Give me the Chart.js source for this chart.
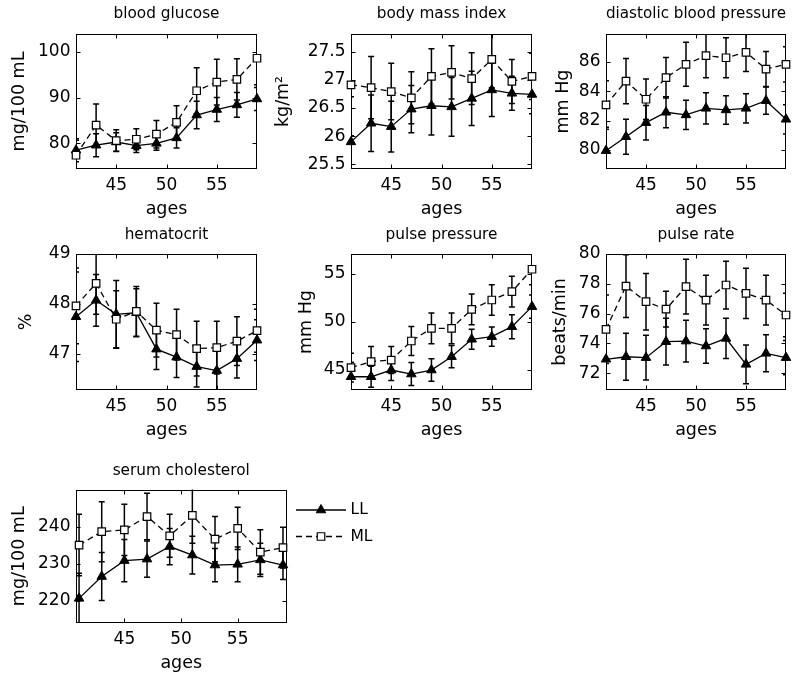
<!DOCTYPE html>
<html><head><meta charset="utf-8">
<script src="https://cdn.jsdelivr.net/npm/chart.js@4.4.1/dist/chart.umd.min.js"></script>
<style>
html,body{margin:0;padding:0;background:#fff;}
body{width:800px;height:676px;position:relative;overflow:hidden;}
canvas{position:absolute;}
</style></head><body>
<script>
// ---------- data ----------
const ages = [41, 43, 45, 47, 49, 51, 53, 55, 57, 59];
const xTicks = [45, 50, 55];
const xTitle = 'ages';
const seriesLabels = ['LL', 'ML'];

// blood glucose
const glucoseLL    = [78.5, 79.6, 80.3, 79.5, 80.0, 81.2, 86.2, 87.4, 88.4, 89.7];
const glucoseLLErr = [2.5, 2.5, 2.0, 1.5, 1.5, 2.2, 3.0, 2.6, 2.7, 2.5];
const glucoseML    = [77.4, 84.0, 80.6, 80.9, 82.0, 84.6, 91.5, 93.4, 94.0, 98.6];
const glucoseMLErr = [3.3, 4.6, 2.4, 2.3, 3.0, 3.6, 5.0, 5.0, 4.5, 5.8];
const glucoseTicks = [80, 90, 100];
const glucoseTickLabels = ['80', '90', '100'];

// body mass index
const bmiLL    = [25.90, 26.23, 26.17, 26.48, 26.54, 26.52, 26.67, 26.82, 26.76, 26.74];
const bmiLLErr = [0.8, 0.5, 0.45, 0.42, 0.52, 0.52, 0.48, 0.47, 0.30, 0.34];
const bmiML    = [26.91, 26.86, 26.79, 26.68, 27.06, 27.13, 27.02, 27.36, 26.97, 27.06];
const bmiMLErr = [0.9, 0.55, 0.5, 0.46, 0.49, 0.47, 0.46, 0.5, 0.39, 0.41];
const bmiTicks = [25.5, 26, 26.5, 27, 27.5];
const bmiTickLabels = ['25.5', '26', '26.5', '27', '27.5'];

// diastolic blood pressure
const dbpLL    = [79.95, 80.9, 81.86, 82.57, 82.39, 82.84, 82.73, 82.84, 83.36, 82.09];
const dbpLLErr = [1.6, 1.2, 1.18, 1.06, 1.0, 1.07, 0.97, 1.0, 0.93, 1.0];
const dbpML    = [83.07, 84.7, 83.46, 84.93, 85.84, 86.43, 86.29, 86.66, 85.52, 85.84];
const dbpMLErr = [1.65, 1.54, 1.38, 1.38, 1.5, 1.5, 1.36, 1.3, 1.2, 1.2];
const dbpTicks = [80, 82, 84, 86];
const dbpTickLabels = ['80', '82', '84', '86'];

// hematocrit
const hctLL    = [47.74, 48.07, 47.79, 47.82, 47.09, 46.93, 46.74, 46.66, 46.90, 47.27];
const hctLLErr = [0.9, 0.52, 0.68, 0.48, 0.41, 0.41, 0.41, 0.40, 0.39, 0.41];
const hctML    = [47.96, 48.41, 47.69, 47.85, 47.47, 47.38, 47.10, 47.12, 47.25, 47.46];
const hctMLErr = [0.76, 0.62, 0.57, 0.5, 0.54, 0.51, 0.55, 0.53, 0.49, 0.43];
const hctTicks = [47, 48, 49];
const hctTickLabels = ['47', '48', '49'];

// pulse pressure
const ppLL    = [44.3, 44.3, 45.0, 44.58, 45.0, 46.39, 48.2, 48.47, 49.51, 51.6];
const ppLLErr = [1.5, 1.1, 1.1, 1.2, 1.17, 1.16, 1.05, 1.0, 1.25, 1.2];
const ppML    = [45.24, 45.87, 46.04, 48.02, 49.34, 49.34, 51.32, 52.29, 53.16, 55.49];
const ppMLErr = [1.5, 1.57, 1.4, 1.5, 1.6, 1.6, 1.6, 1.6, 1.6, 1.6];
const ppTicks = [45, 50, 55];
const ppTickLabels = ['45', '50', '55'];

// pulse rate
const prLL    = [72.94, 73.11, 73.05, 74.12, 74.16, 73.83, 74.34, 72.6, 73.34, 73.05];
const prLLErr = [2.1, 1.57, 1.5, 1.57, 1.4, 1.16, 1.35, 1.3, 1.24, 1.15];
const prML    = [74.95, 77.85, 76.8, 76.3, 77.81, 76.91, 77.92, 77.36, 76.91, 75.91];
const prMLErr = [2.3, 2.1, 1.9, 1.2, 1.83, 1.67, 1.6, 1.68, 1.67, 1.46];
const prTicks = [72, 74, 76, 78, 80];
const prTickLabels = ['72', '74', '76', '78', '80'];

// serum cholesterol
const cholLL    = [220.7, 226.6, 230.9, 231.3, 234.7, 232.4, 229.7, 229.9, 231.1, 229.7];
const cholLLErr = [6.8, 6.5, 5.7, 4.9, 4.9, 5.1, 4.5, 4.7, 4.5, 3.9];
const cholML    = [235.1, 238.7, 239.2, 242.8, 237.6, 243.1, 236.7, 239.6, 233.2, 234.4];
const cholMLErr = [8.3, 8.1, 6.9, 6.3, 5.8, 7.5, 6.1, 5.7, 6.0, 5.5];
const cholTicks = [220, 230, 240];
const cholTickLabels = ['220', '230', '240'];

// ---------- layout / styles ----------
const FONT = "'DejaVu Sans', sans-serif";
const panels = [
  {title:'blood glucose', yTitle:'mg/100 mL', ll:glucoseLL, llErr:glucoseLLErr, ml:glucoseML, mlErr:glucoseMLErr,
   yTicks:glucoseTicks, yLabels:glucoseTickLabels, yMin:74.4, yMax:103.9, xMin:41, xMax:59,
   box:[76,34,257,169], yTitleX:19, titleGap:19.5},
  {title:'body mass index', yTitle:'kg/m\u00B2', ll:bmiLL, llErr:bmiLLErr, ml:bmiML, mlErr:bmiMLErr,
   yTicks:bmiTicks, yLabels:bmiTickLabels, yMin:25.42, yMax:27.81, xMin:41, xMax:59,
   box:[351,34,532,169], yTitleX:283, titleGap:19.5},
  {title:'diastolic blood pressure', yTitle:'mm Hg', ll:dbpLL, llErr:dbpLLErr, ml:dbpML, mlErr:dbpMLErr,
   yTicks:dbpTicks, yLabels:dbpTickLabels, yMin:78.7, yMax:87.91, xMin:41, xMax:59,
   box:[606,34,786,169], yTitleX:563, titleGap:19.5},
  {title:'hematocrit', yTitle:'%', ll:hctLL, llErr:hctLLErr, ml:hctML, mlErr:hctMLErr,
   yTicks:hctTicks, yLabels:hctTickLabels, yMin:46.27, yMax:49, xMin:41, xMax:59,
   box:[76,254,257,390], yTitleX:26, titleGap:18.7},
  {title:'pulse pressure', yTitle:'mm Hg', ll:ppLL, llErr:ppLLErr, ml:ppML, mlErr:ppMLErr,
   yTicks:ppTicks, yLabels:ppTickLabels, yMin:42.92, yMax:57.08, xMin:41, xMax:59,
   box:[351,254,532,390], yTitleX:306.5, titleGap:18.7},
  {title:'pulse rate', yTitle:'beats/min', ll:prLL, llErr:prLLErr, ml:prML, mlErr:prMLErr,
   yTicks:prTicks, yLabels:prTickLabels, yMin:70.88, yMax:80, xMin:41, xMax:59,
   box:[606,254,786,390], yTitleX:560, titleGap:18.7},
  {title:'serum cholesterol', yTitle:'mg/100 mL', ll:cholLL, llErr:cholLLErr, ml:cholML, mlErr:cholMLErr,
   yTicks:cholTicks, yLabels:cholTickLabels, yMin:214.05, yMax:250.1, xMin:40.73, xMax:59.31,
   box:[76,489.5,286.5,623], yTitleX:19, titleGap:18.5, legend:true}
];

// box with inward ticks on all four sides
const boxPlugin = {
  id:'matBox',
  beforeDatasetsDraw(chart){
    const {ctx, chartArea:a, scales:{x, y}} = chart;
    ctx.save();
    ctx.strokeStyle = '#000'; ctx.lineWidth = 1;
    const l = Math.round(a.left)+0.5, t = Math.round(a.top)+0.5, r = Math.round(a.right)-0.5, b = Math.round(a.bottom)-0.5;
    ctx.strokeRect(l, t, r-l, b-t);
    ctx.beginPath();
    y.ticks.forEach(tk => {
      const py = Math.round(y.getPixelForValue(tk.value))+0.5;
      ctx.moveTo(l, py); ctx.lineTo(l+4, py);
      ctx.moveTo(r, py); ctx.lineTo(r-4, py);
    });
    x.ticks.forEach(tk => {
      const px = Math.round(x.getPixelForValue(tk.value))+0.5;
      ctx.moveTo(px, b); ctx.lineTo(px, b-4);
      ctx.moveTo(px, t); ctx.lineTo(px, t+4);
    });
    ctx.stroke();
    ctx.restore();
  }
};

// vertical error bars with caps, clipped to the plot box
const errorBarPlugin = {
  id:'errBars',
  beforeDatasetsDraw(chart){
    const {ctx, chartArea:a, scales:{y}} = chart;
    ctx.save();
    ctx.beginPath(); ctx.rect(a.left, a.top, a.right-a.left, a.bottom-a.top); ctx.clip();
    ctx.strokeStyle = '#000'; ctx.lineWidth = 1.5;
    chart.data.datasets.forEach((ds, i) => {
      const meta = chart.getDatasetMeta(i);
      meta.data.forEach((pt, j) => {
        const v = ds.data[j].y, e = ds.errors[j];
        const y1 = y.getPixelForValue(v + e), y2 = y.getPixelForValue(v - e);
        ctx.beginPath();
        ctx.moveTo(pt.x, y1); ctx.lineTo(pt.x, y2);
        ctx.moveTo(pt.x-3, y1); ctx.lineTo(pt.x+3, y1);
        ctx.moveTo(pt.x-3, y2); ctx.lineTo(pt.x+3, y2);
        ctx.stroke();
      });
    });
    ctx.restore();
  }
};

function drawMarker(ctx, style, r, x, y){
  ctx.beginPath();
  if (style === 'triangle') {
    let rad = 0;
    ctx.moveTo(x + Math.sin(rad)*r, y - Math.cos(rad)*r);
    rad += 2*Math.PI/3; ctx.lineTo(x + Math.sin(rad)*r, y - Math.cos(rad)*r);
    rad += 2*Math.PI/3; ctx.lineTo(x + Math.sin(rad)*r, y - Math.cos(rad)*r);
    ctx.closePath();
  } else {
    const s = r*Math.SQRT1_2;
    ctx.rect(x-s, y-s, 2*s, 2*s);
  }
  ctx.fill(); ctx.stroke();
}

const sideLegendPlugin = {
  id:'sideLegend',
  afterDraw(chart){
    const {ctx, chartArea:a} = chart;
    chart.data.datasets.forEach((ds, i) => {
      const yy = a.top + 20.5 + i*26.5;
      const x0 = a.right + 9.5, x1 = a.right + 59.5, xm = (x0+x1)/2;
      ctx.save();
      ctx.strokeStyle = ds.borderColor; ctx.lineWidth = ds.borderWidth;
      ctx.setLineDash(ds.borderDash || []);
      ctx.beginPath(); ctx.moveTo(x0, yy); ctx.lineTo(x1, yy); ctx.stroke();
      ctx.setLineDash([]);
      ctx.fillStyle = ds.pointBackgroundColor; ctx.strokeStyle = ds.pointBorderColor; ctx.lineWidth = ds.pointBorderWidth;
      drawMarker(ctx, ds.pointStyle, ds.pointRadius, xm, yy);
      ctx.fillStyle = '#000'; ctx.font = "15.5px 'DejaVu Sans'"; ctx.textBaseline = 'middle'; ctx.textAlign = 'left';
      ctx.fillText(ds.label, a.right + 64, yy);
      ctx.restore();
    });
  }
};

function build(p){
  const [L, T, R, B] = p.box;
  const lhAxis = 17.5*1.2, lhTitle = 15.3*1.2;
  const cl = Math.floor(p.yTitleX - lhAxis/2 - 1);
  const ct = Math.floor(T - 34);
  const cr = Math.ceil(R + (p.legend ? 110 : 9));
  const xTitleMid = B + 40;
  const cb = Math.ceil(xTitleMid + lhAxis/2 + 1);
  const cw = cr - cl, ch = cb - ct;
  const canvas = document.createElement('canvas');
  canvas.width = cw; canvas.height = ch;
  canvas.style.left = cl + 'px'; canvas.style.top = ct + 'px';
  canvas.style.width = cw + 'px'; canvas.style.height = ch + 'px';
  document.body.appendChild(canvas);
  const tPadTop = (T - p.titleGap) - ct - lhTitle/2;
  const tPadBot = (T - ct) - lhTitle - tPadTop;

  const mk = arr => ages.map((a, i) => ({x:a, y:arr[i]}));
  new Chart(canvas, {
    type:'line',
    data:{datasets:[
      {label:seriesLabels[0], data:mk(p.ll), errors:p.llErr, borderColor:'#000', backgroundColor:'#000',
       borderWidth:1.3, pointStyle:'triangle', pointRadius:5.5, pointHoverRadius:5.5, pointBorderWidth:1,
       pointBackgroundColor:'#000', pointBorderColor:'#000', order:2, clip:false, tension:0},
      {label:seriesLabels[1], data:mk(p.ml), errors:p.mlErr, borderColor:'#000', backgroundColor:'#fff',
       borderWidth:1.3, borderDash:[6,4], pointStyle:'rect', pointRadius:5.3, pointHoverRadius:5.3, pointBorderWidth:1.2,
       pointBackgroundColor:'#fff', pointBorderColor:'#000', order:1, clip:false, tension:0}
    ]},
    options:{
      responsive:false, animation:false, devicePixelRatio:1, events:[],
      layout:{padding:{left:0, top:0, right:cr - R, bottom:0}},
      plugins:{
        legend:{display:false}, tooltip:{enabled:false},
        title:{display:true, text:p.title, fullSize:false, align:'center', color:'#000',
               font:{family:FONT, size:15.3, weight:'normal', lineHeight:1.2},
               padding:{top:tPadTop, bottom:tPadBot}}
      },
      scales:{
        x:{type:'linear', position:'bottom', min:p.xMin, max:p.xMax,
           grid:{display:false, drawTicks:false}, border:{display:false},
           afterBuildTicks:s => { s.ticks = xTicks.map(v => ({value:v})); },
           afterFit:s => { s.height = cb - B; },
           ticks:{autoSkip:false, maxRotation:0, padding:6.8, color:'#000',
                  font:{family:FONT, size:17, lineHeight:1.2}, callback:v => String(v)},
           title:{display:true, text:xTitle, color:'#000', font:{family:FONT, size:17.5, lineHeight:1.2},
                  padding:{top:0, bottom:cb - xTitleMid - lhAxis/2}}},
        y:{type:'linear', position:'left', min:p.yMin, max:p.yMax,
           grid:{display:false, drawTicks:false}, border:{display:false},
           afterBuildTicks:s => { s.ticks = p.yTicks.map(v => ({value:v})); },
           afterFit:s => { s.width = L - cl; },
           ticks:{autoSkip:false, padding:5.5, color:'#000',
                  font:{family:FONT, size:17, lineHeight:1.2}, callback:(v, i) => p.yLabels[i]},
           title:{display:true, text:p.yTitle, color:'#000', font:{family:FONT, size:17.5, lineHeight:1.2},
                  padding:{top:p.yTitleX - cl - lhAxis/2, bottom:0}}}
      }
    },
    plugins: p.legend ? [boxPlugin, errorBarPlugin, sideLegendPlugin] : [boxPlugin, errorBarPlugin]
  });
}
panels.forEach(build);
</script>
</body></html>
